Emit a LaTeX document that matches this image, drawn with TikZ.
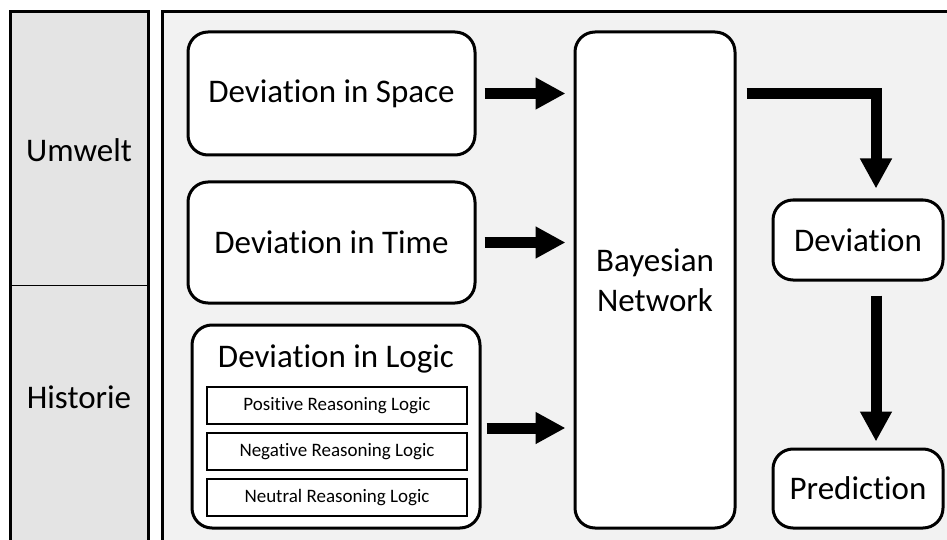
\documentclass[tikz,border=0pt]{standalone}
\usepackage{fontspec}
\setmainfont{Carlito}[Ligatures=NoCommon]
\usepackage{tikz}
\usetikzlibrary{arrows.meta,positioning}
\definecolor{sidegrey}{HTML}{E4E4E4}
\definecolor{panelgrey}{HTML}{F2F2F2}
\tikzstyle{block} = [rectangle, draw, 
fill=white, align=center, rounded corners=20pt, line width=3pt, inner sep=0pt, font=\fontsize{33}{40}\selectfont]
\tikzstyle{subblock} = [rectangle, draw, fill=white, line width=2pt, minimum width=260pt, minimum height=37pt, inner sep=0pt, font=\fontsize{19}{23}\selectfont]
\tikzstyle{fat} = [draw, line width=11pt, -{Triangle[length=30pt,width=30pt]}]

\begin{document}
\begin{tikzpicture}[x=1pt, y=-1pt, node distance=7pt]
    \useasboundingbox (0,0) rectangle (947,540);

    % panels
    \draw[fill=sidegrey, line width=3pt] (10,12) rectangle (148,560);
    \draw[line width=1pt] (10,285) -- (148,285);
    \draw[fill=panelgrey, line width=3pt] (162,12) rectangle (980,560);
    \node[font=\fontsize{33}{40}\selectfont] (umwelt) at (79,150) {Umwelt};
    \node[font=\fontsize{33}{40}\selectfont] (historie) at (79,397) {Historie};

    % Nodes
    \node [block, minimum width=287pt, minimum height=123pt] (space) at (331.5,93.5) {Deviation in Space};
    \node [block, minimum width=287pt, minimum height=121pt, below=24pt of space] (time) {Deviation in Time};
    \node [block, minimum width=288pt, minimum height=203pt] (logic) at (336,426.5) {};
    \node [font=\fontsize{33}{40}\selectfont] (logictitle) at ([yshift=-35pt]logic.north) {Deviation in Logic};
    \node [subblock] (positive) at (337,405.5) {Positive Reasoning Logic};
    \node [subblock, below=of positive] (negative) {Negative Reasoning Logic};
    \node [subblock, below=of negative] (neutral) {Neutral Reasoning Logic};

    \node [block, minimum width=160pt, minimum height=496pt] (bayes) at (655,280) {Bayesian\\Network};
    \node [block, minimum width=170pt, minimum height=80pt] (deviation) at (858,240) {Deviation};
    \node [block, minimum width=170pt, minimum height=79pt] (prediction) at (858,488.5) {Prediction};

    % arrows
    \draw[fat, shorten <=8pt, shorten >=8pt] (space.east) -- (space.east -| bayes.west);
    \draw[fat, shorten <=8pt, shorten >=8pt] (time.east) -- (time.east -| bayes.west);
    \draw[fat, shorten <=5pt, shorten >=8pt] ([yshift=-1.5pt]logic.east) -- ([yshift=-1.5pt]logic.east -| bayes.west);

    \draw[fat, shorten <=10pt, shorten >=10pt] (space.east -| bayes.east) -| ([xshift=18pt]deviation.north);
    \draw[fat, shorten <=14pt, shorten >=6pt] ([xshift=18pt]deviation.south) -- ([xshift=18pt]prediction.north);

\end{tikzpicture}
\end{document}
